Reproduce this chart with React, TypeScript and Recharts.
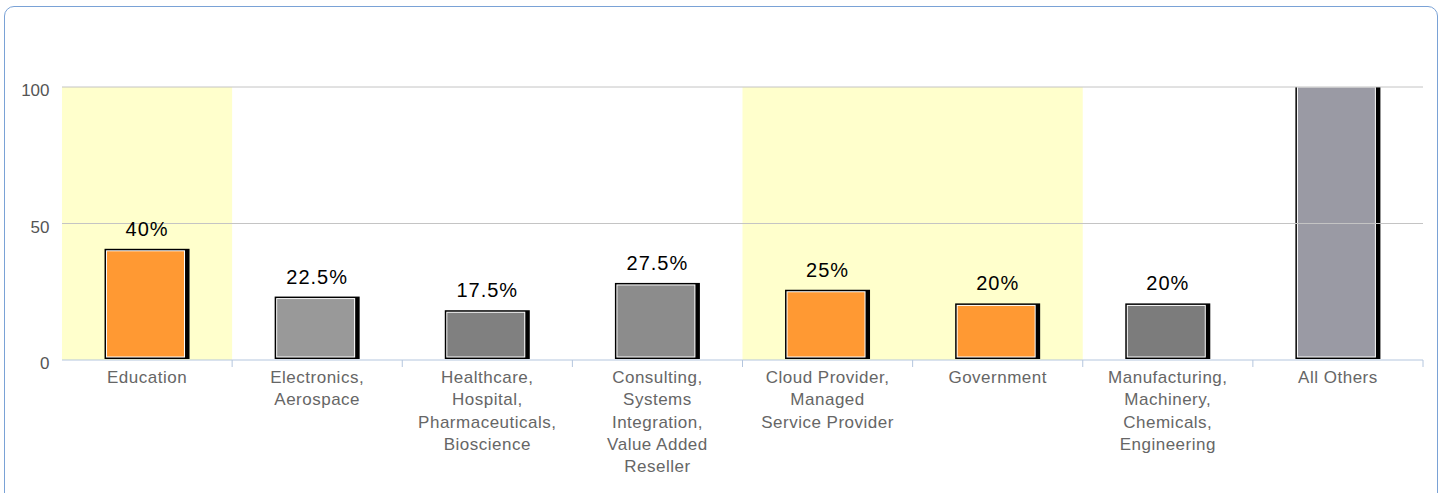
import { BarChart, Bar, XAxis, YAxis, ReferenceArea, ReferenceLine, Cell, LabelList } from "recharts"

const categories = [
  "Education",
  "Electronics,\nAerospace",
  "Healthcare,\nHospital,\nPharmaceuticals,\nBioscience",
  "Consulting,\nSystems\nIntegration,\nValue Added\nReseller",
  "Cloud Provider,\nManaged\nService Provider",
  "Government",
  "Manufacturing,\nMachinery,\nChemicals,\nEngineering",
  "All Others",
]
const values = [40, 22.5, 17.5, 27.5, 25, 20, 20, 100]
const valueLabels = ["40%", "22.5%", "17.5%", "27.5%", "25%", "20%", "20%", ""]
const barColors = ["#ff9933", "#999999", "#808080", "#8c8c8c", "#ff9933", "#ff9933", "#7c7c7c", "#9a9aa4"]
const yTicks = [0, 50, 100]
const gridValues = [50, 100]
const highlights = [
  [categories[0], categories[0]],
  [categories[4], categories[5]],
]

const data = categories.map((name, i) => ({ name, value: values[i], label: valueLabels[i] }))

const FONT = '"Liberation Sans", Arial, sans-serif'
const W = 1444
const H = 493
const margin = { top: 87, right: 21, bottom: 0, left: 0 }
const Y_WIDTH = 62

function FramedBar(props: any) {
  const { x, y, width, height, fill } = props
  const top = y - 2
  const h = height + 1
  return (
    <g>
      <rect x={x} y={top} width={width} height={h} fill="#000" />
      <rect x={x + 1.5} y={top + 1.5} width={width - 6} height={h - 3} fill="#fff" />
      <rect x={x + 2.5} y={top + 2.5} width={width - 8} height={h - 5} fill={fill} />
    </g>
  )
}

function CategoryTick(props: any) {
  const { x, y, payload } = props
  const lines = String(payload.value).split("\n")
  const half = payload.offset || (W - Y_WIDTH - margin.right) / categories.length / 2
  const edge = x + half
  return (
    <g>
      <line x1={edge} y1={y} x2={edge} y2={y + 7} stroke="#b4c6de" />
      <text
        x={x}
        y={y + 23}
        textAnchor="middle"
        fill="#666"
        fontSize={17}
        letterSpacing={0.5}
        fontFamily={FONT}
      >
        {lines.map((l, i) => (
          <tspan key={i} x={x} dy={i === 0 ? 0 : 22.3}>
            {l}
          </tspan>
        ))}
      </text>
    </g>
  )
}

export default function App() {
  return (
    <div style={{ position: "fixed", left: 0, top: 0, width: W, height: H, background: "#fff", overflow: "hidden" }}>
      <div
        style={{
          position: "absolute",
          left: 4,
          top: 6,
          width: 1432,
          height: 520,
          border: "1px solid #7aa2d6",
          borderRadius: 10,
        }}
      />
      <div style={{ position: "absolute", left: 0, top: 0 }}>
        <BarChart width={W} height={H} data={data} margin={margin} barCategoryGap="25%">
          {highlights.map(([a, b], i) => (
            <ReferenceArea key={i} x1={a} x2={b} y1={0} y2={100} fill="#ffffcc" fillOpacity={1} stroke="none" />
          ))}
          {gridValues.map((v) => (
            <ReferenceLine key={v} y={v} stroke="#c4c4c4" strokeWidth={1} />
          ))}
          <XAxis
            dataKey="name"
            interval={0}
            height={H - 360}
            tickSize={0}
            tickMargin={0}
            tickLine={false}
            axisLine={{ stroke: "#b4c6de" }}
            tick={<CategoryTick />}
          />
          <YAxis
            domain={[0, 100]}
            ticks={yTicks}
            width={Y_WIDTH}
            axisLine={false}
            tickLine={false}
            tickSize={6}
            tickMargin={6.5}
            allowDataOverflow
            tick={{ fill: "#555", fontSize: 17, fontFamily: FONT, dy: 3 }}
          />
          <Bar dataKey="value" shape={<FramedBar />} isAnimationActive={false}>
            {data.map((d, i) => (
              <Cell key={d.name} fill={barColors[i]} />
            ))}
            <LabelList
              dataKey="label"
              position="top"
              offset={15}
              fill="#000"
              fontSize={20}
              letterSpacing={1}
              fontFamily={FONT}
            />
          </Bar>
        </BarChart>
      </div>
    </div>
  )
}
